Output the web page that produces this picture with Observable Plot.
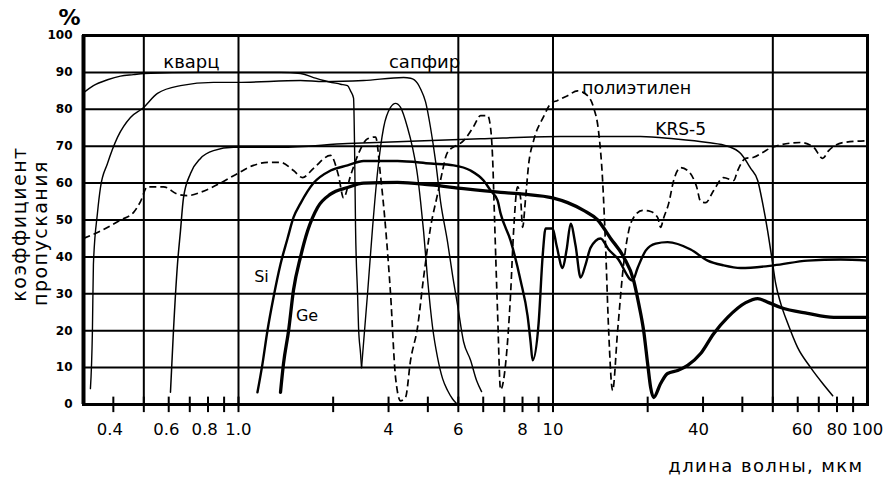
<!DOCTYPE html>
<html>
<head>
<meta charset="utf-8">
<script src="https://cdn.jsdelivr.net/npm/d3@7"></script>
<script src="https://cdn.jsdelivr.net/npm/@observablehq/plot@0.6"></script>
<style>
  html, body { margin: 0; padding: 0; background: #fff; }
  #chart { width: 893px; height: 478px; }
  .ytitle text { letter-spacing: 1.5px; }
  .xtitle text { letter-spacing: 1.4px; }
</style>
</head>
<body>
<div id="chart"></div>
<script>
// Transmission curves: [wavelength µm, transmission %]
const quartz = [[0.3215,84.5],[0.3457,86.4],[0.3832,88],[0.4214,89],[0.4634,89.4],[0.50,89.7],[0.757,90],[1.36,90],[1.575,89.7],[1.732,88.6],[1.864,87.8],[2.111,86.8],[2.222,86.4],[2.271,85],[2.322,83],[2.339,70],[2.356,48],[2.391,30],[2.408,21],[2.443,14],[2.462,10]];
const window45 = [[2.462,10],[2.572,30],[2.669,48],[2.768,63],[2.893,75],[3.044,80.5],[3.158,81.6],[3.276,80.5],[3.448,75],[3.576,69.6],[3.71,62],[3.793,55],[3.877,47],[3.992,34],[4.14,21],[4.295,12.7],[4.456,7],[4.622,3.8],[4.794,1.5],[4.935,0.3]];
const sapphire = [[0.3382,4.3],[0.3432,20],[0.3457,38],[0.356,51.8],[0.364,58.8],[0.3832,65.3],[0.4123,72.4],[0.4534,77.8],[0.495,80.2],[0.5526,84.3],[0.6538,86.4],[0.8326,87.3],[0.9927,87.3],[1.575,87.8],[1.864,87.5],[2.498,87.8],[3.349,88.6],[3.525,88.4],[3.71,87],[3.793,85.5],[3.934,82],[4.08,75],[4.232,66],[4.39,55],[4.622,44],[4.794,35],[4.971,27],[5.196,17],[5.469,12],[5.715,6.5],[5.928,3.5]];
const krs5 = [[0.6077,3.3],[0.6212,20],[0.6397,38],[0.6538,47],[0.6685,56],[0.7037,62.6],[0.757,66.7],[0.8326,68.8],[0.964,69.7],[1.36,69.7],[2.222,70.7],[3.204,71.2],[5.885,72],[10.57,72.6],[18.99,72.6],[24.19,72],[31.02,71],[35.92,70],[39.52,68],[42.51,64],[44.76,60.7],[46.42,54.5],[48.15,47],[49.58,40],[51.05,32.8],[52.97,27.4],[55.76,22],[59.98,15.4],[65.96,10],[72.03,5.7],[77.51,2.4]];
const si = [[1.149,3.3],[1.192,11],[1.236,20],[1.292,29],[1.36,38],[1.432,45],[1.496,50.7],[1.575,54.5],[1.732,60],[1.962,63.4],[2.222,64.8],[2.498,66],[3.204,66],[4.08,65.3],[4.83,64.8],[5.469,63.4],[6.015,60.7],[6.331,58],[6.664,55.3],[6.812,51.8],[7.331,44.4],[7.887,33.6],[8.302,24],[8.486,17],[8.612,12],[9.0,22],[9.267,40],[9.473,47.7],[9.97,47.7],[10.27,43],[10.73,37],[11.05,42],[11.38,49],[11.8,43],[12.24,34.4],[12.7,38],[13.17,42.5],[14.17,45],[15.03,42],[16.05,39.6],[17.91,33.6],[18.58,37],[19.71,41.7],[21.2,43.6],[23.14,44],[27.4,42],[31.02,39],[34.88,37.7],[39.52,37],[50.3,37.7],[64.54,39],[82.18,39.3],[100,39]];
const ge = [[1.36,3.3],[1.39,11],[1.443,20],[1.496,31],[1.575,40],[1.658,47],[1.784,53.4],[1.962,57],[2.222,58.8],[2.498,60],[3.204,60.2],[4.08,59.5],[5.196,58.5],[6.812,57.5],[8.064,57],[9.97,56],[11.13,54.7],[12.51,52.6],[13.87,50],[15.25,45],[16.77,40],[18.05,33.6],[18.72,27.4],[19.42,20],[20.0,11],[20.44,4.6],[20.89,1.9],[21.99,5.7],[23.14,8.4],[24.91,9.2],[26.8,10.6],[29.48,13.8],[32.42,19.2],[35.92,23.6],[41.0,27.6],[44.76,28.7],[48.51,27.6],[52.97,26.3],[64.54,24.7],[78.08,23.6],[100,23.6]];
const polyethylene = [[0.3215,45],[0.364,47],[0.4214,50],[0.4634,52],[0.4879,55],[0.5135,59],[0.5366,59],[0.5774,59],[0.6397,57],[0.6883,56.6],[0.757,57.5],[0.8764,60],[0.9927,62.6],[1.116,64.8],[1.236,65.6],[1.36,65.6],[1.496,63.4],[1.598,61.5],[1.732,64],[1.962,67.5],[2.08,62],[2.158,56],[2.271,62],[2.408,68],[2.572,72],[2.728,72.5],[2.829,62],[2.935,48],[3.044,30],[3.158,7.3],[3.276,1],[3.398,2],[3.525,12],[3.71,21],[3.877,34.4],[4.08,48],[4.295,57],[4.456,63.4],[4.555,67],[4.656,68.8],[4.794,69.6],[5.196,71.5],[5.591,75.3],[5.885,78.3],[6.194,78.3],[6.331,75],[6.425,67],[6.52,50],[6.664,25],[6.812,4],[7.068,11],[7.331,30],[7.494,47],[7.716,59],[7.887,56],[8.004,48],[8.183,56],[8.364,65],[8.676,71.5],[9.335,78],[9.826,81.5],[10.34,82.4],[11.13,83.7],[11.97,85],[12.88,83.7],[13.46,80.5],[13.96,74],[14.38,60.7],[14.7,42.5],[15.03,20],[15.47,3.8],[16.05,20],[16.77,38],[17.4,47],[18.05,50.7],[19.28,52.6],[20.44,52.3],[21.51,50.7],[21.99,48],[22.47,50.5],[23.33,54.5],[24.19,60.7],[25.47,64.2],[26.8,63.4],[28.62,59],[29.48,55],[30.58,54.7],[32.42,58],[34.88,61.5],[37.53,60.7],[38.65,63.4],[41.0,66.7],[43.45,67],[46.42,68.3],[49.75,69.7],[61.32,71],[67.43,69.7],[72.03,66.7],[75.27,68.8],[84.03,71],[100,71.5]];

// Axes
const xDomain = [0.3215, 100];
const gridX = [0.5, 1, 5, 10, 50];
const gridY = [10, 20, 30, 40, 50, 60, 70, 80, 90];
const tickX = [0.4, 0.5, 0.6, 0.7, 0.8, 0.9, 1, 2, 3, 4, 5, 6, 7, 8, 9, 10, 20, 30, 40, 50, 60, 70, 80, 90];
const yTicks = [0, 10, 20, 30, 40, 50, 60, 70, 80, 90, 100];
// tick labels as printed, and the wavelength under which each one is printed in the figure
const xLabelText = ["0.4", "0.6", "0.8", "1.0", "4", "6", "8", "10", "40", "60", "80", "100"];
const xLabelAt   = [0.39, 0.59, 0.78, 1, 3, 5, 8, 10, 29, 62, 80, 100];

const X = d => d[0], Y = d => d[1];
const thin = {x: X, y: Y, stroke: "black", strokeWidth: 1.4, curve: "monotone-x", strokeLinejoin: "round", strokeLinecap: "round"};

const chart = Plot.plot({
  width: 893,
  height: 478,
  marginLeft: 83,
  marginRight: 26,
  marginTop: 35,
  marginBottom: 74,
  style: {fontFamily: "DejaVu Sans", background: "white", color: "black"},
  x: {type: "log", domain: xDomain, axis: null},
  y: {domain: [0, 100]},
  marks: [
    Plot.ruleY(gridY, {stroke: "black", strokeWidth: 2}),
    Plot.ruleX(gridX, {stroke: "black", strokeWidth: 2}),
    Plot.ruleX(tickX, {y1: -2.2, y2: 2, stroke: "black", strokeWidth: 2}),
    Plot.line(quartz, thin),
    Plot.line(window45, thin),
    Plot.line(sapphire, thin),
    Plot.line(krs5, {...thin, strokeWidth: 1.5}),
    Plot.line(polyethylene, {...thin, strokeWidth: 1.7, strokeDasharray: "7,4", strokeLinecap: "butt"}),
    Plot.line(si, {...thin, strokeWidth: 2.4}),
    Plot.line(ge, {...thin, strokeWidth: 3.3}),
    Plot.frame({stroke: "black", strokeWidth: 3}),
    Plot.ruleX([xDomain[0]], {stroke: "black", strokeWidth: 4}),
    Plot.axisY({ticks: yTicks, tickSize: 0, tickPadding: 11, fontSize: 12, fontWeight: "bold", label: null}),
    Plot.text(xLabelText, {x: (d, i) => xLabelAt[i], y: () => 0, text: d => d, dy: 25, fontSize: 16.5}),
    // annotations
    Plot.text(["кварц"], {x: () => 0.7086, y: () => 92.7, text: d => d, fontSize: 18}),
    Plot.text(["сапфир"], {x: () => 3.905, y: () => 92.8, text: d => d, fontSize: 18}),
    Plot.text(["полиэтилен"], {x: () => 18.45, y: () => 85.8, text: d => d, fontSize: 17.5}),
    Plot.text(["KRS-5"], {x: () => 25.47, y: () => 74.4, text: d => d, fontSize: 17}),
    Plot.text(["Si"], {x: () => 1.183, y: () => 34.7, text: d => d, fontSize: 16}),
    Plot.text(["Ge"], {x: () => 1.652, y: () => 24.1, text: d => d, fontSize: 16}),
    // axis titles
    Plot.text(["%"], {frameAnchor: "top-left", textAnchor: "middle", lineAnchor: "middle", dx: -14, dy: -18, text: d => d, fontSize: 22, fontWeight: "bold"}),
    Plot.text(["коэффициент"], {frameAnchor: "left", textAnchor: "middle", lineAnchor: "middle", dx: -64, dy: 4, rotate: -90, text: d => d, fontSize: 19, className: "ytitle"}),
    Plot.text(["пропускания"], {frameAnchor: "left", textAnchor: "middle", lineAnchor: "middle", dx: -43, dy: 13, rotate: -90, text: d => d, fontSize: 19, className: "ytitle"}),
    Plot.text(["длина волны, мкм"], {frameAnchor: "bottom-right", textAnchor: "end", lineAnchor: "middle", dx: -4, dy: 62, text: d => d, fontSize: 18, className: "xtitle"})
  ]
});
document.getElementById("chart").appendChild(chart);
</script>
</body>
</html>
